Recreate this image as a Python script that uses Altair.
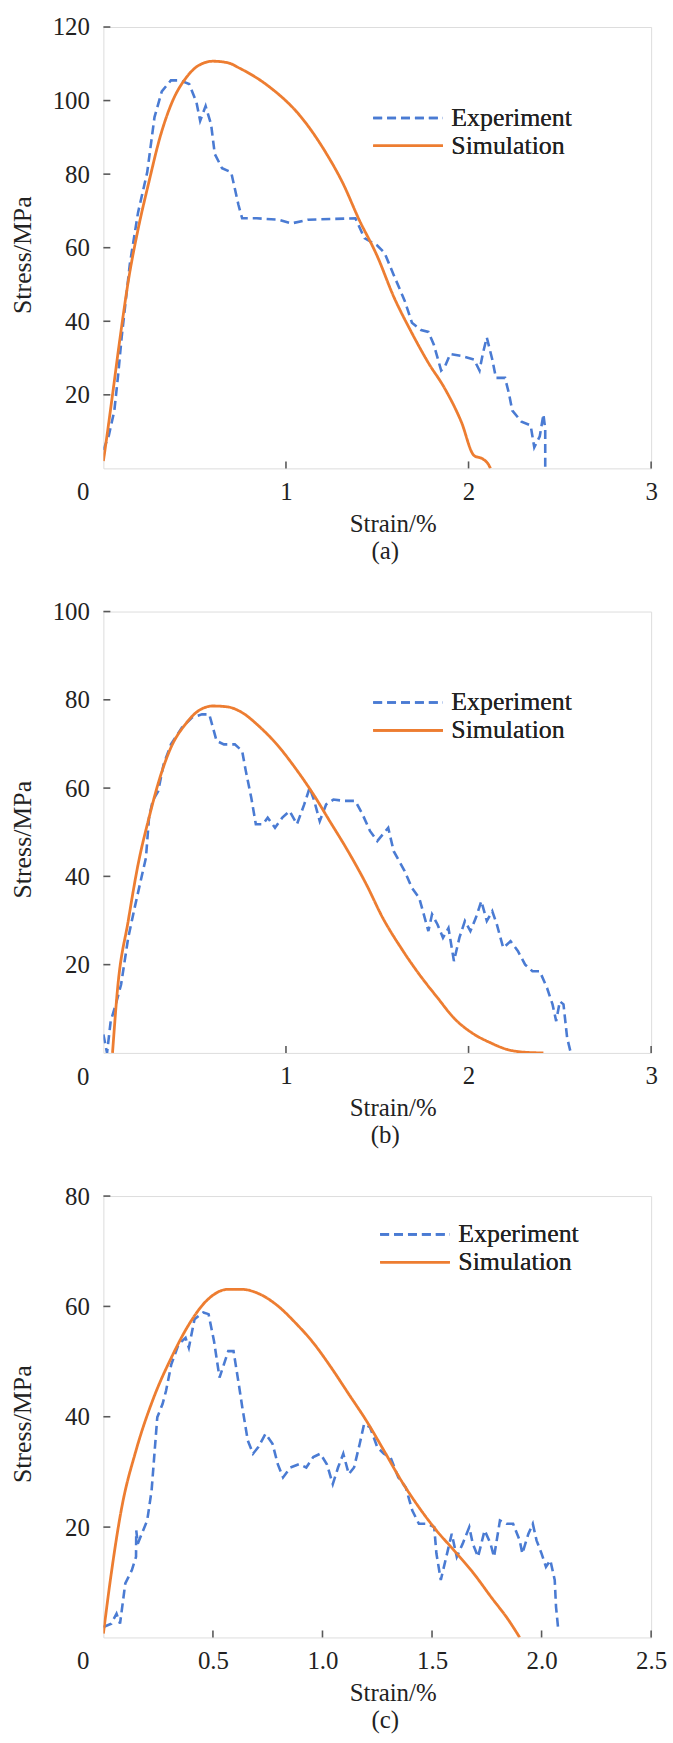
import altair as alt
import pandas as pd

FONT = "Liberation Serif, Times New Roman, Tinos, Times, DejaVu Serif, serif"
BLUE = "#4A7BD3"
ORANGE = "#ED7D31"
FRAME = "#595959"
TEXT = "#222222"
SERIES = ["Experiment", "Simulation"]

# ---------------- Panel (a) ----------------
a_exp_strain = [0, 0.03, 0.06, 0.08, 0.10, 0.145, 0.19, 0.24, 0.28, 0.32, 0.37, 0.42, 0.47, 0.51, 0.53,
                0.56, 0.59, 0.61, 0.65, 0.70, 0.74, 0.76, 0.84, 0.96, 1.03, 1.12, 1.38, 1.43, 1.50,
                1.54, 1.59, 1.65, 1.69, 1.74, 1.78, 1.81, 1.85, 1.87, 1.90, 1.96, 2.03, 2.06, 2.08,
                2.10, 2.13, 2.15, 2.20, 2.22, 2.24, 2.29, 2.34, 2.36, 2.39, 2.41, 2.42, 2.42]
a_exp_stress = [5, 9, 15.7, 25, 35.6, 55.6, 69.6, 80.5, 95.5, 102.5, 105.5, 105.5, 104.5, 99.5, 94.5,
                98.5, 93.5, 85.5, 81.6, 80.5, 71.6, 68, 68, 67.6, 66.6, 67.6, 68, 62.6, 60.6,
                58.6, 52.6, 45.6, 39.6, 37.6, 37.1, 33.6, 26.6, 27.6, 31.1, 30.6, 29.6, 26.6, 31.6,
                35.6, 29.6, 24.6, 24.6, 20.6, 15.7, 12.7, 11.7, 5.7, 8.7, 14.7, 10.7, 0]
a_sim_strain = [0, 0.02, 0.05, 0.09, 0.14, 0.19, 0.25, 0.31, 0.38, 0.45, 0.52, 0.60, 0.68, 0.75, 0.91,
                1.08, 1.22, 1.31, 1.40, 1.50, 1.59, 1.68, 1.78, 1.87, 1.96, 2.03, 2.08, 2.11, 2.12]
a_sim_stress = [2, 9, 20, 35, 52, 65, 78, 90, 100, 106, 109.5, 110.7, 110.3, 108.7, 103.7,
                95.7, 85.7, 77.7, 67.7, 57.7, 46.7, 37.7, 28.7, 21.7, 12.7, 3.5, 2.5, 1, 0]

# ---------------- Panel (b) ----------------
b_exp_strain = [0, 0.02, 0.04, 0.068, 0.097, 0.136, 0.175, 0.20, 0.233, 0.25, 0.27, 0.30, 0.33, 0.37,
                0.43, 0.485, 0.54, 0.58, 0.60, 0.62, 0.66, 0.72, 0.76, 0.78, 0.81, 0.835, 0.874,
                0.90, 0.94, 0.98, 1.02, 1.06, 1.10, 1.13, 1.155, 1.185, 1.22, 1.26, 1.32, 1.38,
                1.42, 1.46, 1.50, 1.53, 1.56, 1.59, 1.65, 1.69, 1.73, 1.76, 1.78, 1.80, 1.83, 1.86,
                1.89, 1.92, 1.95, 1.98, 2.01, 2.04, 2.07, 2.10, 2.13, 2.155, 2.19, 2.23, 2.27,
                2.31, 2.35, 2.39, 2.43, 2.46, 2.48, 2.50, 2.52, 2.54, 2.56]
b_exp_stress = [4.2, 0, 7.2, 11, 15.5, 26.1, 33.6, 38.2, 44.2, 53.3, 57.1, 59.3, 65.4, 69.9,
                73.7, 76, 76.7, 76.7, 73.7, 70.7, 69.9, 69.9, 68.4, 63.9, 57.8, 51.8, 51.8,
                53.3, 51, 53.3, 54.8, 51.8, 56.3, 60.1, 57.1, 52.5, 56.3, 57.4, 57.1, 57.1,
                54, 50.3, 48, 49.5, 51, 45.7, 41.2, 37.4, 35.1, 30.6, 27.6, 31.4, 29.1, 26.1,
                28.3, 20.8, 26.1, 29.9, 27.6, 30.6, 34.4, 29.9, 32.1, 29.1, 23.8, 25.3, 23.1,
                20, 18.5, 18.5, 14.7, 11, 7.2, 11.7, 11, 3.4, 0]
b_sim_strain = [0.05, 0.078, 0.136, 0.19, 0.25, 0.31, 0.37, 0.45, 0.52, 0.60, 0.68, 0.76, 0.85, 0.95,
                1.05, 1.15, 1.24, 1.34, 1.44, 1.53, 1.63, 1.73, 1.83, 1.92, 2.02, 2.12, 2.21, 2.31, 2.41]
b_sim_stress = [0, 14.7, 29.9, 42.7, 53.3, 62.4, 69.2, 74.5, 77.5, 78.6, 78.4, 77.1, 74.1, 69.9,
                64.6, 58.6, 52.5, 45.7, 38.2, 30.6, 23.8, 17.8, 12.5, 7.9, 4.5, 2.3, 0.8, 0.15, 0]

# ---------------- Panel (c) ----------------
c_exp_strain = [0, 0.036, 0.06, 0.076, 0.10, 0.13, 0.149, 0.15, 0.157, 0.20, 0.22, 0.246, 0.27, 0.286,
                0.31, 0.343, 0.375, 0.39, 0.416, 0.456, 0.48, 0.505, 0.53, 0.57, 0.594, 0.618,
                0.634, 0.659, 0.683, 0.707, 0.74, 0.772, 0.796, 0.82, 0.853, 0.893, 0.926, 0.958,
                0.99, 1.02, 1.047, 1.071, 1.095, 1.12, 1.144, 1.17, 1.19, 1.217, 1.25, 1.28, 1.31,
                1.346, 1.38, 1.41, 1.44, 1.476, 1.51, 1.52, 1.54, 1.565, 1.59, 1.613, 1.64, 1.67,
                1.686, 1.71, 1.74, 1.767, 1.783, 1.81, 1.84, 1.87, 1.90, 1.912, 1.94, 1.96, 1.977,
                2.0, 2.02, 2.04, 2.06, 2.066, 2.075]
c_exp_stress = [1.9, 2.5, 4.3, 2.5, 9.8, 12.2, 14.6, 19.4, 17, 21.2, 26.6, 39.9, 42.3, 44.7,
                49.5, 53.1, 54.3, 52.5, 57.7, 58.9, 58.6, 53.7, 47.1, 51.9, 51.9, 45.9,
                41.7, 35.7, 33.3, 34.5, 36.9, 35.1, 31.4, 29, 30.8, 31.4, 30.8, 32.7,
                33.3, 31.4, 27.8, 30.8, 33.3, 29.6, 30.8, 35.1, 38.7, 38.1, 34.5, 33.3, 32.7,
                29, 27.2, 23, 20.6, 20.6, 20, 15.2, 10.4, 14.6, 18.8, 14.6, 17, 20,
                17, 14.6, 19.4, 17, 14.6, 21.2, 20.6, 20.6, 17.6, 15.2, 18.8, 20.6, 17.6,
                15.2, 12.8, 14, 10.4, 5.5, 1.9]
c_sim_strain = [0, 0.036, 0.084, 0.149, 0.23, 0.31, 0.39, 0.47, 0.57, 0.63, 0.715, 0.796, 0.877, 0.958,
                1.04, 1.12, 1.20, 1.28, 1.36, 1.44, 1.52, 1.60, 1.69, 1.77, 1.85, 1.90]
c_sim_stress = [0.7, 11.6, 23.6, 33.9, 43.5, 50.7, 56.7, 61, 63.1, 63.1, 62.2, 60.1, 57, 53.4,
                48.9, 44.1, 39.3, 33.9, 28.4, 23.6, 19.4, 15.8, 11.6, 7.3, 3.1, 0]

W, H = 551, 444


def frame(ex, ey, sx, sy):
    rows = []
    for i, (x, y) in enumerate(zip(ex, ey)):
        rows.append({"series": "Experiment", "strain": x, "stress": y, "i": i})
    for i, (x, y) in enumerate(zip(sx, sy)):
        rows.append({"series": "Simulation", "strain": x, "stress": y, "i": i})
    return pd.DataFrame(rows)


def panel(ex, ey, sx, sy, xmax, ymax, xticks, yticks, xfmt, caption, legx, legy):
    df = frame(ex, ey, sx, sy)
    xs = alt.Scale(domain=[0, xmax], nice=False, zero=True)
    ys = alt.Scale(domain=[0, ymax], nice=False, zero=True)
    # long horizontal stroke symbol whose nominal size stays at one text row
    leg = alt.Legend(title=None, orient="none", legendX=legx, legendY=legy,
                     symbolType="M-2.7,0H2.7", symbolSize=676, symbolStrokeWidth=2.6,
                     symbolFillColor="transparent",
                     labelFont=FONT, labelFontSize=26, labelColor=TEXT, labelOffset=29,
                     rowPadding=-1, padding=0, offset=0, labelLimit=300)
    enc = dict(
        x=alt.X("strain:Q", scale=xs,
                axis=alt.Axis(values=xticks, format=xfmt, title="Strain/%", domain=False,
                              ticks=False, grid=False, labelFont=FONT, labelFontSize=25,
                              labelColor=TEXT, labelPadding=11, labelFlush=False,
                              labelOverlap=False, titleFont=FONT, titleFontSize=25,
                              titleFontWeight="normal", titleColor=TEXT, titleX=291,
                              titleY=55, titleAlign="center", titleBaseline="middle")),
        y=alt.Y("stress:Q", scale=ys,
                axis=alt.Axis(values=yticks, title="Stress/MPa", domain=False, ticks=False,
                              grid=False, labelFont=FONT, labelFontSize=25, labelColor=TEXT,
                              labelPadding=14, labelFlush=False, labelOverlap=False,
                              titleFont=FONT, titleFontSize=26, titleFontWeight="normal",
                              titleColor=TEXT, titleX=-81, titleY=229, titleAngle=270,
                              titleAlign="center", titleBaseline="middle")),
        color=alt.Color("series:N", scale=alt.Scale(domain=SERIES, range=[BLUE, ORANGE]),
                        legend=leg),
        strokeDash=alt.StrokeDash("series:N",
                                  scale=alt.Scale(domain=SERIES, range=[[9, 5], [1, 0]]),
                                  legend=leg),
        order="i:Q",
    )
    base = alt.Chart(df)
    exp_line = base.transform_filter(alt.datum.series == "Experiment").mark_line(
        strokeWidth=2.6, clip=True).encode(**enc)
    sim_line = base.transform_filter(alt.datum.series == "Simulation").mark_line(
        strokeWidth=2.8, clip=True, interpolate="monotone").encode(**enc)
    ytick_df = pd.DataFrame({"v": yticks})
    xtick_df = pd.DataFrame({"v": xticks})
    yt = alt.Chart(ytick_df).mark_rule(color=FRAME, strokeWidth=1.6).encode(
        y=alt.Y("v:Q", scale=ys), x=alt.value(0), x2=alt.value(7))
    xt = alt.Chart(xtick_df).mark_rule(color=FRAME, strokeWidth=1.6).encode(
        x=alt.X("v:Q", scale=xs), y=alt.value(H), y2=alt.value(H - 7))
    zero = alt.Chart(pd.DataFrame({"x": [0], "y": [0], "t": ["0"]})).mark_text(
        align="right", baseline="middle", dx=-14, dy=24, font=FONT, fontSize=25,
        color=TEXT).encode(x=alt.X("x:Q", scale=xs), y=alt.Y("y:Q", scale=ys), text="t:N")
    return alt.layer(yt, xt, exp_line, sim_line, zero).properties(
        width=W, height=H,
        title=alt.TitleParams(caption, orient="bottom", anchor="middle", frame="group",
                              font=FONT, fontSize=25, fontWeight="normal", color=TEXT,
                              offset=3, dx=8),
    ).resolve_scale(color="independent", strokeDash="independent")


pa = panel(a_exp_strain, a_exp_stress, a_sim_strain, a_sim_stress, 3, 120,
           [1, 2, 3], [20, 40, 60, 80, 100, 120], "d", "(a)", 292, 77)
pb = panel(b_exp_strain, b_exp_stress, b_sim_strain, b_sim_stress, 3, 100,
           [1, 2, 3], [20, 40, 60, 80, 100], "d", "(b)", 292, 77)
pc = panel(c_exp_strain, c_exp_stress, c_sim_strain, c_sim_stress, 2.5, 80,
           [0.5, 1.0, 1.5, 2.0, 2.5], [20, 40, 60, 80], ".1f", "(c)", 299, 24)

chart = alt.vconcat(pa, pb, pc, spacing=34).resolve_scale(
    color="independent", strokeDash="independent"
).resolve_legend(color="independent", strokeDash="independent").properties(
    padding={"left": 9, "top": 9, "right": 5, "bottom": 2}
).configure_view(stroke=FRAME, strokeWidth=2).configure(background="white", font=FONT)

chart.save("out.html", embed_options={"renderer": "svg", "actions": False})
